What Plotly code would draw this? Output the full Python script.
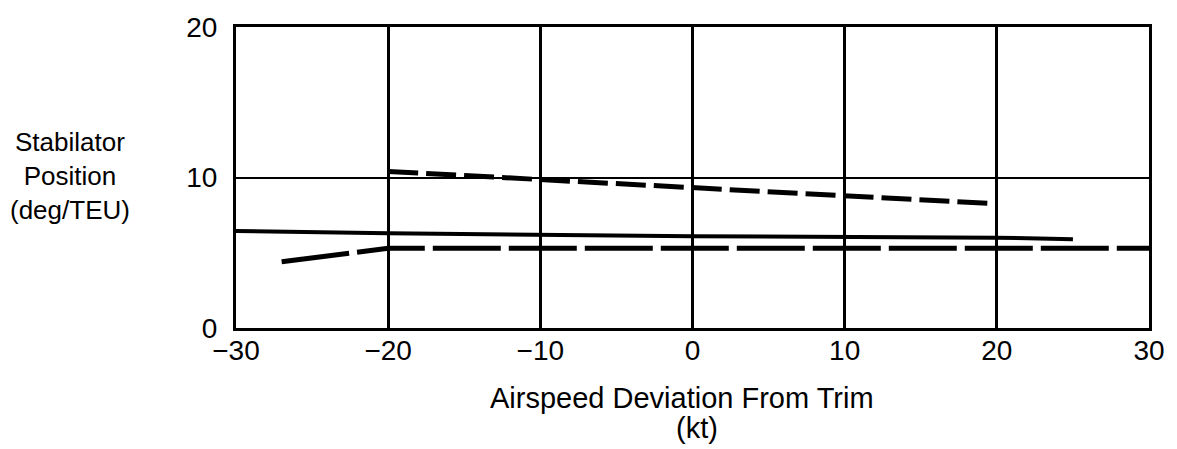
import plotly.graph_objects as go

# Data
solid_x = [-30, -20, 0, 20, 25]
solid_y = [6.45, 6.3, 6.1, 6.0, 5.9]

upper_dash_x = [-20, 0, 20]
upper_dash_y = [10.4, 9.35, 8.25]

lower_dash_x = [-27, -20, 30]
lower_dash_y = [4.4, 5.3, 5.3]

x_ticks = [-30, -20, -10, 0, 10, 20, 30]
x_tick_labels = ["\u221230", "\u221220", "\u221210", "0", "10", "20", "30"]
y_ticks = [0, 10, 20]
y_tick_labels = ["0", "10", "20"]

FONT = "Liberation Sans"

fig = go.Figure()
fig.add_trace(go.Scatter(x=solid_x, y=solid_y, mode="lines",
                         line=dict(color="black", width=4), showlegend=False))
fig.add_trace(go.Scatter(x=upper_dash_x, y=upper_dash_y, mode="lines",
                         line=dict(color="black", width=5, dash="30px,8px"), showlegend=False))
fig.add_trace(go.Scatter(x=lower_dash_x, y=lower_dash_y, mode="lines",
                         line=dict(color="black", width=5, dash="68px,8px"), showlegend=False))

fig.update_layout(
    width=1177, height=449,
    margin=dict(l=236, r=20, t=22, b=121),
    paper_bgcolor="white", plot_bgcolor="white",
    font=dict(family=FONT, size=28, color="black"),
    xaxis=dict(range=[-30, 30], tickvals=x_ticks, ticktext=x_tick_labels,
               showgrid=True, gridcolor="black", gridwidth=3,
               showline=True, linecolor="black", linewidth=3, mirror=True,
               zeroline=False, ticks="", ticklabelstandoff=-5,
               tickfont=dict(size=28)),
    yaxis=dict(range=[0, 20], tickvals=y_ticks, ticktext=y_tick_labels,
               showgrid=True, gridcolor="black", gridwidth=2,
               showline=True, linecolor="black", linewidth=3, mirror=True,
               zeroline=False, ticks="", ticklabelstandoff=10,
               tickfont=dict(size=28)),
)

fig.add_annotation(text="Stabilator<br>Position<br>(deg/TEU)", xref="paper", yref="paper",
                   x=0, y=0.5, xanchor="center", yanchor="middle",
                   showarrow=False, font=dict(size=26), align="center",
                   xshift=-166, yshift=2)
fig.add_annotation(text="Airspeed Deviation From Trim", xref="paper", yref="paper",
                   x=0.5, y=0, xanchor="center", yanchor="middle",
                   showarrow=False, font=dict(size=29), xshift=-11, yshift=-70)
fig.add_annotation(text="(kt)", xref="paper", yref="paper",
                   x=0.5, y=0, xanchor="center", yanchor="middle",
                   showarrow=False, font=dict(size=29), xshift=4, yshift=-100)

fig.write_html("out.html", config={"displayModeBar": False},
               post_script="document.body.style.margin='0';document.body.style.overflow='hidden';")
